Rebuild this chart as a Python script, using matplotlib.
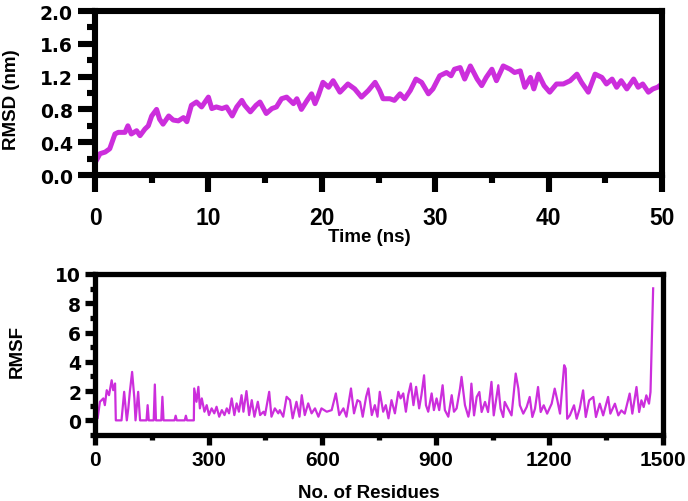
import matplotlib
matplotlib.use("Agg")
import matplotlib.pyplot as plt
from matplotlib.ticker import MultipleLocator

plt.rcParams['font.family'] = ['Liberation Sans', 'DejaVu Sans']
plt.rcParams['font.weight'] = 'bold'

LINE_COLOR = '#CC2EDC'

# ---- RMSD data (time in ns, RMSD in nm) ----
rmsd_time = [0, 0.05, 0.44, 0.9, 1.3, 1.76, 2.05, 2.65, 2.9, 3.2, 3.67, 3.97, 4.4, 4.7,
             5.0, 5.43, 5.7, 6.0, 6.5, 6.9, 7.35, 7.8, 8.1, 8.5, 8.95, 9.4, 10.0, 10.3,
             10.7, 11.2, 11.6, 12.1, 12.5, 12.95, 13.2, 13.7, 14.2, 14.55, 15.1, 15.6,
             16.0, 16.45, 16.9, 17.5, 17.8, 18.2, 18.7, 19.1, 19.4, 19.7, 20.1, 20.6,
             21.0, 21.6, 22.3, 22.9, 23.5, 24.1, 24.7, 25.1, 25.4, 26.0, 26.4, 26.9,
             27.3, 27.8, 28.3, 28.8, 29.4, 29.8, 30.4, 31.0, 31.4, 31.7, 32.2, 32.6,
             33.1, 33.7, 34.1, 34.5, 35.0, 35.4, 36.0, 36.6, 37.0, 37.5, 37.9, 38.4,
             38.7, 39.1, 39.6, 40.1, 40.7, 41.3, 41.9, 42.5, 42.9, 43.5, 44.1, 44.7,
             45.1, 45.6, 46.0, 46.4, 46.9, 47.5, 47.9, 48.3, 48.8, 49.2, 49.6, 50.0]
rmsd_value = [0.01, 0.16, 0.26, 0.28, 0.32, 0.50, 0.52, 0.52, 0.60, 0.50, 0.54, 0.48,
              0.56, 0.60, 0.72, 0.80, 0.68, 0.62, 0.72, 0.67, 0.66, 0.70, 0.65, 0.85,
              0.89, 0.83, 0.95, 0.81, 0.83, 0.81, 0.83, 0.72, 0.83, 0.91, 0.85, 0.77,
              0.85, 0.89, 0.75, 0.81, 0.83, 0.93, 0.95, 0.87, 0.93, 0.80, 0.91, 0.99,
              0.87, 0.97, 1.13, 1.07, 1.15, 1.01, 1.11, 1.05, 0.95, 1.03, 1.13, 1.03,
              0.93, 0.93, 0.91, 0.99, 0.93, 1.03, 1.17, 1.13, 0.99, 1.05, 1.21, 1.25,
              1.21, 1.29, 1.31, 1.17, 1.33, 1.17, 1.09, 1.19, 1.29, 1.15, 1.33, 1.29,
              1.25, 1.27, 1.07, 1.19, 1.05, 1.23, 1.09, 1.01, 1.11, 1.11, 1.15, 1.23,
              1.13, 1.01, 1.23, 1.19, 1.11, 1.17, 1.07, 1.15, 1.05, 1.17, 1.07, 1.11,
              1.01, 1.05, 1.07, 1.11]

# ---- RMSF data (residue number, RMSF) ----
rmsf_points = [
    (0, 1.04), (7, 0.14), (13, 1.27), (22, 1.50), (26, 1.04), (31, 2.06), (37, 1.72),
    (44, 2.74), (48, 2.06), (53, 2.52), (55, 0), (70, 0), (77, 1.95), (84, 0), (88, 0.82),
    (92, 1.95), (98, 3.31), (104, 1.50), (107, 0), (114, 1.95), (119, 0), (136, 0),
    (139, 1.04), (142, 0), (155, 0), (158, 2.45), (161, 0), (175, 0), (178, 1.61),
    (181, 0), (210, 0), (213, 0.32), (216, 0), (237, 0), (240, 0.32), (243, 0), (261, 0),
    (262, 2.18), (268, 1.27), (273, 2.29), (277, 0.82), (282, 1.50), (289, 0.59),
    (295, 1.04), (301, 0.36), (308, 0.82), (315, 0.48), (321, 0.93), (328, 0.25),
    (335, 0.70), (342, 0.36), (348, 0.82), (354, 0.48), (361, 1.50), (368, 0.36),
    (374, 1.16), (380, 0.59), (387, 1.72), (392, 0.59), (400, 2.00), (407, 0.36),
    (414, 1.38), (421, 0.25), (430, 1.27), (436, 0.36), (445, 0.59), (449, 0.36),
    (460, 1.95), (466, 0.25), (475, 0.82), (484, 0.48),
    (488, 0.70), (497, 0.25), (506, 1.61), (515, 1.38), (522, 0.14), (532, 1.27),
    (540, 0.25), (546, 1.72), (554, 0.36), (563, 1.16), (572, 0.48), (581, 0.82),
    (590, 0.25), (598, 0.82), (612, 0.59), (625, 0.70), (636, 1.84), (645, 0.36),
    (656, 0.82), (664, 0.25), (676, 2.18), (684, 0.48), (693, 1.38), (700, 1.27),
    (707, 0.25), (716, 1.61), (722, 2.18), (731, 0.36), (739, 1.04), (746, 0.25),
    (752, 1.95), (761, 0.59), (768, 1.04), (775, 0.14), (783, 1.38), (792, 0.48),
    (801, 1.95), (807, 1.50), (814, 1.84), (821, 0.59), (827, 1.72), (834, 2.52),
    (841, 1.04), (848, 2.29), (856, 0.82), (862, 1.72), (869, 3.08), (874, 1.04),
    (880, 0.59), (889, 1.84), (895, 0.70), (902, 1.50), (909, 0.70), (918, 2.40),
    (924, 0.70), (933, 0.25), (942, 1.72), (948, 0.59), (955, 0.82), (964, 2.18),
    (968, 2.97), (977, 1.04), (986, 0.25),
    (990, 0.80), (994, 2.51), (1001, 0.34), (1008, 1.60), (1015, 1.94), (1021, 0.57),
    (1030, 1.26), (1038, 0.57), (1047, 2.63), (1053, 0.34), (1065, 2.40), (1071, 0.80),
    (1078, 0.23), (1082, 1.26), (1091, 0.80), (1100, 0.34), (1111, 3.20), (1118, 2.17),
    (1122, 1.03), (1131, 0.46), (1140, 0.91), (1148, 1.60), (1155, 0.23), (1162, 0.80),
    (1170, 2.28), (1177, 0.57), (1185, 1.03), (1194, 0.46), (1206, 1.14), (1214, 2.17),
    (1221, 1.37), (1228, 0.46), (1239, 3.77), (1243, 3.54), (1247, 0.11), (1254, 0.34),
    (1265, 1.03), (1272, 0.11), (1280, 0.80), (1289, 2.05), (1296, 0.23), (1305, 1.37),
    (1316, 1.60), (1323, 0.23), (1333, 1.14), (1342, 0.34), (1355, 1.60), (1361, 0.46),
    (1373, 1.14), (1382, 0.34), (1390, 0.68), (1399, 0.46), (1412, 1.83), (1419, 0.46),
    (1430, 2.28), (1437, 0.57), (1443, 1.37), (1449, 0.91), (1456, 1.71), (1463, 1.14),
    (1467, 1.94), (1474, 9.02),
]
rmsf_residue = [p[0] for p in rmsf_points]
rmsf_value = [p[1] for p in rmsf_points]

rmsd_xticks = [0, 10, 20, 30, 40, 50]
rmsd_yticks = [0.0, 0.4, 0.8, 1.2, 1.6, 2.0]
rmsf_xticks = [0, 300, 600, 900, 1200, 1500]
rmsf_yticks = [0, 2, 4, 6, 8, 10]

fig = plt.figure(figsize=(6.88, 5.02), dpi=100)

ax1 = fig.add_axes([95/688, 1-176/502, 567/688, 164/502])
ax2 = fig.add_axes([95/688, 1-436/502, 568/688, 161/502])


def style(ax, lw, maj, mino, pad_x, pad_y, fsx, fsy):
    for s in ax.spines.values():
        s.set_linewidth(lw)
        s.set_capstyle('projecting')
    ax.tick_params(which='major', direction='out', length=maj, width=lw)
    ax.tick_params(which='minor', direction='out', length=mino, width=lw)
    ax.tick_params(axis='x', which='major', pad=pad_x, labelsize=fsx)
    ax.tick_params(axis='y', which='major', pad=pad_y, labelsize=fsy)
    for lab in ax.get_xticklabels():
        lab.set_fontweight('bold')
    for lab in ax.get_yticklabels():
        lab.set_fontweight('bold')
        lab.set_family(['DejaVu Sans'])


# --- top: RMSD ---
ax1.plot(rmsd_time, rmsd_value, color=LINE_COLOR, lw=3.6, solid_joinstyle='round')
ax1.set_xlim(0, 50)
ax1.set_ylim(0, 2.0)
ax1.set_xticks(rmsd_xticks)
ax1.set_yticks(rmsd_yticks)
ax1.set_yticklabels([f"{v:.1f}" for v in rmsd_yticks])
ax1.xaxis.set_minor_locator(MultipleLocator(5))
ax1.yaxis.set_minor_locator(MultipleLocator(0.2))
style(ax1, 4.4, 12.5, 5.5, 10, 3.5, 16.5, 13.5)
ax1.set_xlabel('Time (ns)', fontsize=13.5, fontweight='bold')
ax1.xaxis.set_label_coords((369-95)/567, (176-237)/164)
ax1.xaxis.label.set_va('center')
ax1.set_ylabel('RMSD (nm)', fontsize=13.5, fontweight='bold')
ax1.yaxis.set_label_coords((12-95)/567, (176-100)/164)
ax1.yaxis.label.set_va('center')

# --- bottom: RMSF ---
ax2.plot(rmsf_residue, rmsf_value, color=LINE_COLOR, lw=1.6, solid_joinstyle='round')
ax2.set_xlim(0, 1500)
ax2.set_ylim(-1, 10)
ax2.set_xticks(rmsf_xticks)
ax2.set_yticks(rmsf_yticks)
ax2.xaxis.set_minor_locator(MultipleLocator(150))
ax2.yaxis.set_minor_locator(MultipleLocator(1))
style(ax2, 3.8, 7, 3.5, 4, 3, 15, 13.5)
ax2.set_xlabel('No. of Residues', fontsize=13.5, fontweight='bold')
ax2.xaxis.set_label_coords((369-95)/568, (436-494)/161)
ax2.xaxis.label.set_va('center')
ax2.set_ylabel('RMSF', fontsize=13.5, fontweight='bold')
ax2.yaxis.set_label_coords((17-95)/568, (436-352)/161)
ax2.yaxis.label.set_va('center')

fig.savefig('out.png', dpi=100)
